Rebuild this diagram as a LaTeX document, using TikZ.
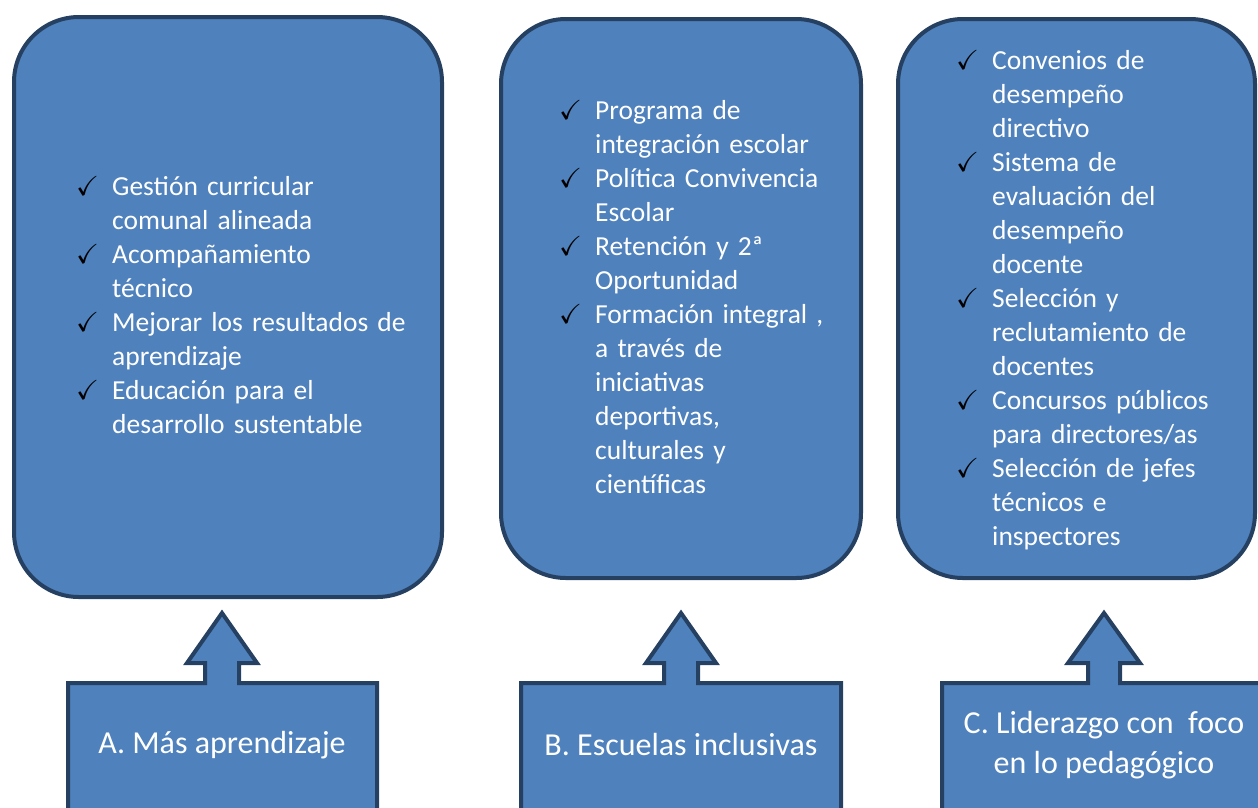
\documentclass[tikz,border=0pt]{standalone}
\usepackage{amssymb}
\usepackage{fontspec}
\setmainfont{Carlito}
\usetikzlibrary{positioning}
\definecolor{mfill}{HTML}{4F81BD}
\definecolor{medge}{HTML}{254061}
\tikzset{box/.style = {draw=medge, fill=mfill, line width=4pt, rounded corners=65pt, inner sep=0pt},
         callout/.style = {draw=medge, fill=mfill, line width=4pt, line join=miter},
         lst/.style = {anchor=north west, text=white, inner sep=0pt, text width=#1,
                       font=\fontsize{27.5}{34}\selectfont\raggedright},
         lbl/.style = {text=white, align=center, inner sep=0pt,
                       font=\fontsize{32}{40}\selectfont}}
\setlength{\parskip}{0pt}
\newcommand{\itm}[1]{\par\hangindent=36pt\hangafter=1\noindent
  \makebox[36pt][l]{\textcolor{black}{$\checkmark$}}\strut#1\par}

\begin{document}
\begin{tikzpicture}[x=1pt, y=-1pt]
    \useasboundingbox (0, 0) rectangle (1258, 807);
    \clip (0, 0) rectangle (1258, 807);
    % upper boxes
    \node [box, minimum width=428pt, minimum height=580pt] (boxA) at (228, 307) {};
    \node [box, minimum width=360pt, minimum height=559pt] (boxB) at (681, 298.5) {};
    \node [box, minimum width=357pt, minimum height=559pt] (boxC) at (1076.5, 298.5) {};
    \node [lst=360pt] (listA) at (76, 161) {%
      \itm{Gestión curricular\newline comunal alineada}
      \itm{Acompañamiento\newline técnico}
      \itm{Mejorar los resultados de\newline aprendizaje}
      \itm{Educación para el\newline desarrollo sustentable}};
    \node [lst=300pt] (listB) at (559, 85) {%
      \itm{Programa de\newline integración escolar}
      \itm{Política Convivencia\newline Escolar}
      \itm{Retención y 2ª\newline Oportunidad}
      \itm{Formación integral ,\newline a través de\newline iniciativas\newline deportivas,\newline culturales y\newline científicas}};
    \node [lst=300pt] (listC) at (956, 35) {%
      \itm{Convenios de\newline desempeño\newline directivo}
      \itm{Sistema de\newline evaluación del\newline desempeño\newline docente}
      \itm{Selección y\newline reclutamiento de\newline docentes}
      \itm{Concursos públicos\newline para directores/as}
      \itm{Selección de jefes\newline técnicos e\newline inspectores}};
    % lower callouts
    \draw [callout] (68, 840) -- (68, 683) -- (205, 683) -- (205, 663) -- (187, 663) -- (222, 613)
      -- (257, 663) -- (239, 663) -- (239, 683) -- (377, 683) -- (377, 840) -- cycle;
    \draw [callout] (521, 840) -- (521, 683) -- (664, 683) -- (664, 663) -- (646, 663) -- (681, 613)
      -- (716, 663) -- (698, 663) -- (698, 683) -- (841, 683) -- (841, 840) -- cycle;
    \draw [callout] (942, 840) -- (942, 683) -- (1088, 683) -- (1088, 663) -- (1068, 663) -- (1104, 613)
      -- (1140, 663) -- (1120, 663) -- (1120, 683) -- (1280, 683) -- (1280, 840) -- cycle;
    \node [lbl] (labA) at (222, 745) {A. Más aprendizaje};
    \node [lbl] (labB) at (681, 745) {B. Escuelas inclusivas};
    \node [lbl] (labC) at (1104, 745) {C. Liderazgo con\ \ foco\\en lo pedagógico};
  \end{tikzpicture}
\end{document}
